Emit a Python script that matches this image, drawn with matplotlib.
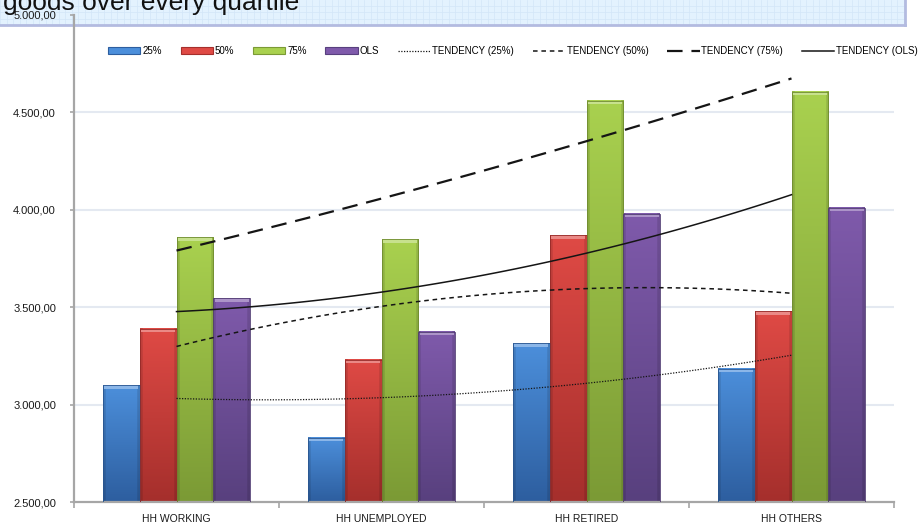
import numpy as np
import matplotlib.pyplot as plt
from matplotlib.colors import to_rgb
from matplotlib.patches import Patch, Rectangle
from matplotlib.lines import Line2D
from matplotlib.ticker import FuncFormatter, FixedLocator

plt.rcParams['font.family'] = ['Liberation Sans', 'DejaVu Sans']

# household types and the quartile / OLS estimates for each
categories = ["HH WORKING", "HH UNEMPLOYED", "HH RETIRED", "HH OTHERS"]
q25 = [3100, 2830, 3315, 3185]
q50 = [3390, 3230, 3870, 3480]
q75 = [3860, 3850, 4560, 4605]
ols = [3545, 3375, 3980, 4010]
series_names = ["25%", "50%", "75%", "OLS"]
trend_names = ["TENDENCY (25%)", "TENDENCY (50%)", "TENDENCY (75%)", "TENDENCY (OLS)"]
title = "goods over every quartile"
y_ticks = [2500, 3000, 3500, 4000, 4500, 5000]

series = [q25, q50, q75, ols]
# (top, bottom) colour of the bar gradient
bar_colors = [("#4c8fdb", "#2d5e9f"), ("#df4a45", "#a52f2c"),
              ("#a9d14f", "#7b9a35"), ("#7f5aab", "#58407e")]
trend_styles = [(0, (1, 1.2)), (0, (3, 2.5)), (0, (7, 4)), '-']
trend_widths = [0.9, 1.1, 1.6, 1.1]

W, H = 923, 524
fig = plt.figure(figsize=(W / 100, H / 100), dpi=100)

# header band with a fine blue grid
hdr = fig.add_axes([0, 1 - 25 / H, 905 / W, 25 / H], zorder=0)
hdr.set_facecolor('#e3f2fe')
hdr.set_xlim(0, 905)
hdr.set_ylim(0, 25)
hdr.set_xticks(np.arange(0, 905, 6.5))
hdr.set_yticks(np.arange(0, 25, 6.5))
hdr.grid(True, color='#d3e6f8', lw=0.5)
hdr.tick_params(length=0, labelbottom=False, labelleft=False)
for side, sp in hdr.spines.items():
    sp.set_color('#b3bbe0')
    sp.set_linewidth(2)
    if side in ('top', 'left'):
        sp.set_visible(False)
hdr.text(3, 15, title, fontsize=19, ha='left', va='baseline', color='#111111')

ax = fig.add_axes([74 / W, 1 - 502 / H, 820 / W, 487 / H], zorder=1)
ax.set_facecolor('none')

ymin, ymax = y_ticks[0], y_ticks[-1]
x = np.arange(len(categories))
bw = 0.18
for i, (vals, (ctop, cbot)) in enumerate(zip(series, bar_colors)):
    top, bot = np.array(to_rgb(ctop)), np.array(to_rgb(cbot))
    for j, v in enumerate(vals):
        x0 = x[j] - 2 * bw + i * bw
        # vertical gradient, slightly darker towards the side edges
        t = np.linspace(0, 1, 120)[:, None, None]
        img = bot + (top - bot) * t
        s = np.linspace(-1, 1, 40)
        edge = 1 - 0.12 * (np.abs(s) > 0.85)
        img = np.clip(img * edge[None, :, None], 0, 1)
        ax.imshow(img, extent=[x0, x0 + bw, ymin, v], origin='lower',
                  aspect='auto', zorder=2, interpolation='bilinear')
        cap = top + (1 - top) * 0.35
        ax.add_patch(Rectangle((x0 + 0.008, v - 18), bw - 0.016, 18,
                               facecolor=cap, edgecolor='none', zorder=3))
        ax.add_patch(Rectangle((x0, ymin), bw, v - ymin, facecolor='none',
                               edgecolor=bot * 0.9, lw=0.6, zorder=3))

# second order polynomial trend lines through the category centres
xs = np.linspace(x[0], x[-1], 100)
for vals, ls, lw in zip(series, trend_styles, trend_widths):
    coef = np.polyfit(x, vals, 2)
    ax.plot(xs, np.polyval(coef, xs), color='#151515', ls=ls, lw=lw, zorder=4)

ax.set_xlim(-0.5, len(categories) - 0.5)
ax.set_ylim(ymin, ymax)

for yv in y_ticks[1:-1]:
    ax.axhline(yv, color='#e4e9f1', lw=1.5, zorder=1)

ax.yaxis.set_major_locator(FixedLocator(y_ticks))
ax.yaxis.set_major_formatter(FuncFormatter(
    lambda v, p: f"{v:,.2f}".replace(",", "X").replace(".", ",").replace("X", ".")))
ax.set_xticks(x)
ax.set_xticklabels(categories)
ax.set_xticks(np.arange(len(categories) + 1) - 0.5, minor=True)

ax.tick_params(axis='y', length=3, width=1.2, color='#a6a6a6', pad=10,
               labelsize=8, labelcolor='#1a1a1a')
ax.tick_params(axis='x', which='major', length=0, pad=9, labelsize=7.5,
               labelcolor='#1a1a1a')
ax.tick_params(axis='x', which='minor', length=4, width=1.2, color='#a6a6a6')

for side in ('top', 'right'):
    ax.spines[side].set_visible(False)
for side in ('left', 'bottom'):
    ax.spines[side].set_color('#a6a6a6')
    ax.spines[side].set_linewidth(1.6)

handles = [Patch(facecolor=c[0], edgecolor=c[1], lw=0.8) for c in bar_colors]
handles += [Line2D([], [], color='#151515', ls=ls, lw=lw)
            for ls, lw in zip(trend_styles, trend_widths)]
ax.legend(handles, series_names + trend_names, ncol=8, loc='center',
          bbox_to_anchor=(513 / W, 1 - 51 / H), bbox_transform=fig.transFigure,
          frameon=False, fontsize=7, handlelength=3.3, handleheight=0.7,
          handletextpad=0.2, columnspacing=1.95)

fig.savefig('out.png', dpi=100)
